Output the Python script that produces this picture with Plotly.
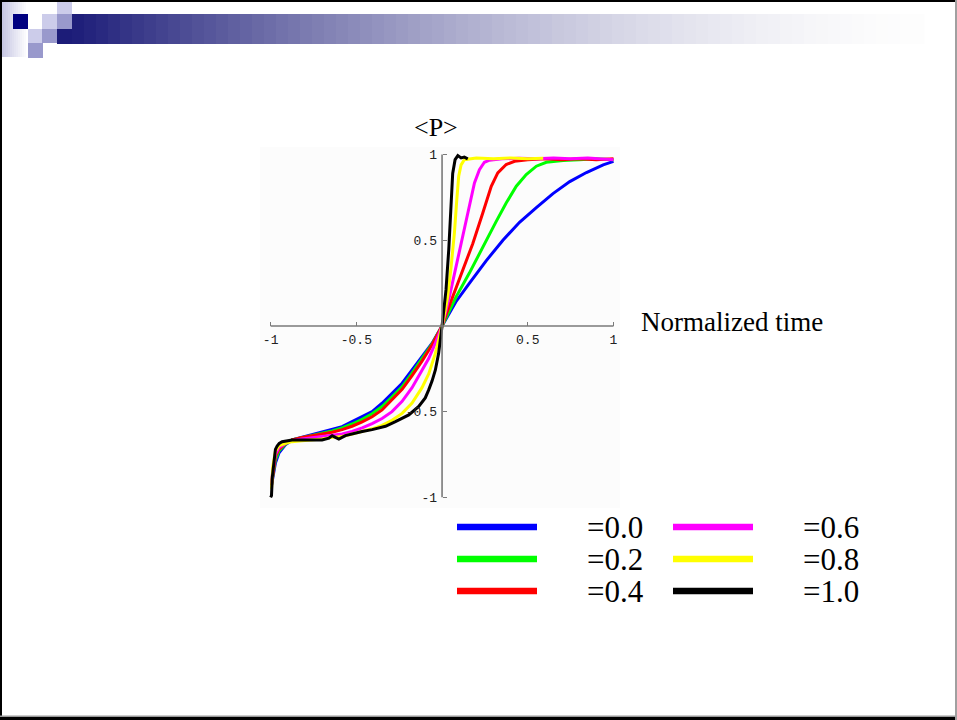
import plotly.graph_objects as go

W, H = 957, 720

# ---- series data: <P> versus normalized time ----
labels = ["=0.0", "=0.2", "=0.4", "=0.6", "=0.8", "=1.0"]
colors = ["#0000ff", "#00ff00", "#ff0000", "#ff00ff", "#ffff00", "#000000"]

blue_x = [-0.995, -0.987, -0.972, -0.952, -0.914, -0.875, -0.816, -0.758, -0.70, -0.641, -0.583,
          -0.525, -0.466, -0.408, -0.35, -0.292, -0.233, -0.175, -0.117, -0.058, 0.0,
          0.08, 0.16, 0.257, 0.355, 0.452, 0.55, 0.647, 0.745, 0.842, 0.94, 1.0]
blue_y = [-0.93, -0.88, -0.80, -0.742, -0.694, -0.665, -0.649, -0.636, -0.622, -0.606, -0.587,
          -0.558, -0.529, -0.50, -0.451, -0.393, -0.334, -0.257, -0.179, -0.101, 0.0,
          0.14, 0.25, 0.38, 0.50, 0.605, 0.69, 0.772, 0.842, 0.895, 0.94, 0.96]

green_x = [-0.995, -0.987, -0.972, -0.952, -0.914, -0.875, -0.816, -0.758, -0.70, -0.641, -0.583,
           -0.525, -0.466, -0.408, -0.35, -0.292, -0.233, -0.175, -0.117, -0.058, 0.0,
           0.043, 0.082, 0.16, 0.257, 0.316, 0.374, 0.433, 0.491, 0.55, 0.608, 0.706, 0.8, 0.9, 1.0]
green_y = [-0.92, -0.87, -0.78, -0.73, -0.69, -0.665, -0.65, -0.637, -0.625, -0.612, -0.595,
           -0.572, -0.545, -0.512, -0.47, -0.415, -0.355, -0.275, -0.19, -0.105, 0.0,
           0.09, 0.17, 0.31, 0.50, 0.61, 0.717, 0.815, 0.883, 0.932, 0.955, 0.965, 0.97, 0.975, 0.97]

red_x = [-0.995, -0.987, -0.972, -0.952, -0.914, -0.875, -0.816, -0.758, -0.70, -0.641, -0.583,
         -0.525, -0.466, -0.408, -0.35, -0.292, -0.233, -0.175, -0.117, -0.058, 0.0,
         0.043, 0.062, 0.121, 0.179, 0.238, 0.287, 0.325, 0.374, 0.423, 0.5, 0.6, 0.7, 0.8, 0.9, 1.0]
red_y = [-0.93, -0.86, -0.76, -0.72, -0.685, -0.665, -0.65, -0.64, -0.63, -0.62, -0.605,
         -0.585, -0.56, -0.53, -0.49, -0.43, -0.37, -0.29, -0.205, -0.11, 0.0,
         0.12, 0.17, 0.32, 0.48, 0.66, 0.815, 0.893, 0.942, 0.961, 0.97, 0.975, 0.97, 0.975, 0.97, 0.975]

magenta_x = [-0.995, -0.987, -0.972, -0.952, -0.914, -0.875, -0.816, -0.758, -0.70, -0.641, -0.583,
             -0.525, -0.466, -0.408, -0.35, -0.292, -0.233, -0.175, -0.117, -0.078, -0.039, 0.0,
             0.043, 0.082, 0.121, 0.16, 0.189, 0.218, 0.247, 0.277, 0.35, 0.45, 0.55, 0.65, 0.75,
             0.85, 0.95, 1.0]
magenta_y = [-0.92, -0.84, -0.75, -0.71, -0.685, -0.67, -0.66, -0.652, -0.645, -0.64, -0.63,
             -0.615, -0.595, -0.57, -0.54, -0.50, -0.44, -0.36, -0.26, -0.19, -0.10, 0.0,
             0.171, 0.347, 0.542, 0.717, 0.834, 0.912, 0.955, 0.967, 0.975, 0.978, 0.975, 0.98, 0.975,
             0.98, 0.975, 0.97]

yellow_x = [-0.995, -0.987, -0.972, -0.952, -0.914, -0.875, -0.816, -0.758, -0.70, -0.641, -0.583,
            -0.525, -0.466, -0.408, -0.35, -0.292, -0.233, -0.175, -0.117, -0.078, -0.039, -0.02, 0.0,
            0.02, 0.033, 0.053, 0.072, 0.086, 0.097, 0.111, 0.13, 0.2, 0.3, 0.4, 0.5, 0.59]
yellow_y = [-0.95, -0.82, -0.73, -0.70, -0.685, -0.675, -0.67, -0.665, -0.66, -0.65, -0.645,
            -0.63, -0.615, -0.60, -0.58, -0.55, -0.51, -0.45, -0.36, -0.28, -0.16, -0.09, 0.0,
            0.10, 0.171, 0.347, 0.542, 0.737, 0.873, 0.94, 0.97, 0.98, 0.975, 0.98, 0.975, 0.978]

black_x = [-1.0, -0.995, -0.99, -0.981, -0.972, -0.962, -0.95, -0.933, -0.875, -0.816, -0.758,
           -0.70, -0.66, -0.641, -0.622, -0.602, -0.564, -0.525, -0.466, -0.408, -0.369, -0.33,
           -0.272, -0.233, -0.194, -0.136, -0.098, -0.078, -0.058, -0.039, -0.02, 0.0,
           0.01, 0.023, 0.039, 0.053, 0.062, 0.076, 0.092, 0.111, 0.13, 0.15]
black_y = [-1.0, -0.99, -0.88, -0.78, -0.72, -0.70, -0.685, -0.675, -0.665, -0.665, -0.665,
           -0.665, -0.655, -0.64, -0.65, -0.66, -0.64, -0.63, -0.616, -0.605, -0.597, -0.585,
           -0.558, -0.54, -0.519, -0.47, -0.42, -0.373, -0.32, -0.257, -0.16, 0.0,
           0.09, 0.21, 0.444, 0.737, 0.89, 0.97, 0.994, 0.98, 0.985, 0.975]

series_x = [blue_x, green_x, red_x, magenta_x, yellow_x, black_x]
series_y = [blue_y, green_y, red_y, magenta_y, yellow_y, black_y]

x_ticks = [-1, -0.5, 0.5, 1]
x_tick_text = ["-1", "-0.5", "0.5", "1"]
y_ticks = [-1, -0.5, 0.5, 1]
y_tick_text = ["-1", "-0.5", "0.5", "1"]

fig = go.Figure()
for xs, ys, c, lab in zip(series_x, series_y, colors, labels):
    fig.add_trace(go.Scatter(x=xs, y=ys, mode="lines", name=lab,
                             line=dict(color=c, width=3)))

shapes = []


def rect(x0, y0, x1, y1, color, layer="below"):
    shapes.append(dict(type="rect", xref="paper", yref="paper",
                       x0=x0 / W, x1=x1 / W, y0=1 - y1 / H, y1=1 - y0 / H,
                       fillcolor=color, line=dict(width=0), layer=layer))


# slide title band: fading column, checker squares, gradient bar
for i in range(13):
    xa = 2 + i * 2
    t = i / 12
    v = lambda a: int(round(a + (255 - a) * t))
    rect(xa, 2, xa + 2, 57, "rgb(%d,%d,%d)" % (v(200), v(200), v(228)))
rect(13, 14, 28, 29, "#000080")
rect(57, 2, 72, 14, "#ccccea")
rect(42, 14, 57, 29, "#ccccea")
rect(57, 14, 72, 29, "#9999cc")
rect(28, 29, 42, 43, "#ccccea")
rect(42, 29, 57, 43, "#9999cc")
rect(28, 43, 43, 58, "#9999cc")
rect(57, 29, 72, 44, "#1c1c78")
x_start, x_end, step = 72, 924, 12
xa = x_start
while xa < x_end:
    f = (xa + step / 2 - x_start) / (x_end - x_start)
    g = 1 - (1 - f) ** 1.7
    r = int(round(28 + g * (253 - 28)))
    b = int(round(120 + g * (253 - 120)))
    rect(xa, 14, xa + step + 0.5, 44, "rgb(%d,%d,%d)" % (r, r, b))
    xa += step

# slide frame
rect(0, 0, W, 2, "#000000", "above")
rect(0, 0, 2, H, "#000000", "above")
rect(0, 717, W, H, "#000000", "above")
rect(0, 715.5, W, 717, "#999999", "above")
rect(955, 0, W, H, "#a0a0a0", "above")

# axes crossing at the origin
shapes.append(dict(type="line", xref="x", yref="y", x0=-1, x1=1, y0=0, y1=0,
                   line=dict(color="#7a7a7a", width=1.6)))
shapes.append(dict(type="line", xref="x", yref="y", x0=0, x1=0, y0=-1, y1=1,
                   line=dict(color="#7a7a7a", width=1.6)))

# legend: line samples with value labels
annotations = []
row_y = [527, 559, 591]
line_x0 = [457, 673]
text_x0 = [585, 801]
for i, (c, lab) in enumerate(zip(colors, labels)):
    col, row = i // 3, i % 3
    yy = 1 - row_y[row] / H
    shapes.append(dict(type="line", xref="paper", yref="paper",
                       x0=line_x0[col] / W, x1=(line_x0[col] + 80) / W, y0=yy, y1=yy,
                       line=dict(color=c, width=6.5)))
    annotations.append(dict(xref="paper", yref="paper", x=text_x0[col] / W, y=yy,
                            text=lab, showarrow=False, xanchor="left", yanchor="middle",
                            font=dict(family="Liberation Serif", size=31, color="#000000")))

annotations.append(dict(xref="paper", yref="paper", x=436 / W, y=1 - 127 / H,
                        text="&lt;P&gt;", showarrow=False, xanchor="center", yanchor="middle",
                        font=dict(family="Liberation Serif", size=26, color="#000000")))
annotations.append(dict(xref="paper", yref="paper", x=639 / W, y=1 - 322 / H,
                        text="Normalized time", showarrow=False, xanchor="left", yanchor="middle",
                        font=dict(family="Liberation Serif", size=27, color="#000000")))

tick_font = dict(family="Liberation Mono", size=13, color="#222222")
fig.update_layout(
    width=W, height=H,
    margin=dict(l=0, r=0, t=0, b=0),
    paper_bgcolor="#ffffff",
    plot_bgcolor="#fcfcfc",
    showlegend=False,
    shapes=shapes,
    annotations=annotations,
    xaxis=dict(domain=[260 / W, 620 / W], range=[-1.062, 1.038],
               anchor="free", position=1 - 326 / H,
               showgrid=False, zeroline=False, showline=False,
               tickmode="array", tickvals=x_ticks, ticktext=x_tick_text,
               ticks="inside", ticklen=4, tickwidth=1, tickcolor="#7a7a7a",
               ticklabelstandoff=4, tickfont=tick_font),
    yaxis=dict(domain=[1 - 508 / H, 1 - 147 / H], range=[-1.062, 1.044],
               anchor="free", position=442 / W,
               showgrid=False, zeroline=False, showline=False,
               tickmode="array", tickvals=y_ticks, ticktext=y_tick_text,
               ticks="inside", ticklen=4, tickwidth=1, tickcolor="#7a7a7a",
               ticklabelstandoff=5, tickfont=tick_font),
)

fig.write_html("out.html")
